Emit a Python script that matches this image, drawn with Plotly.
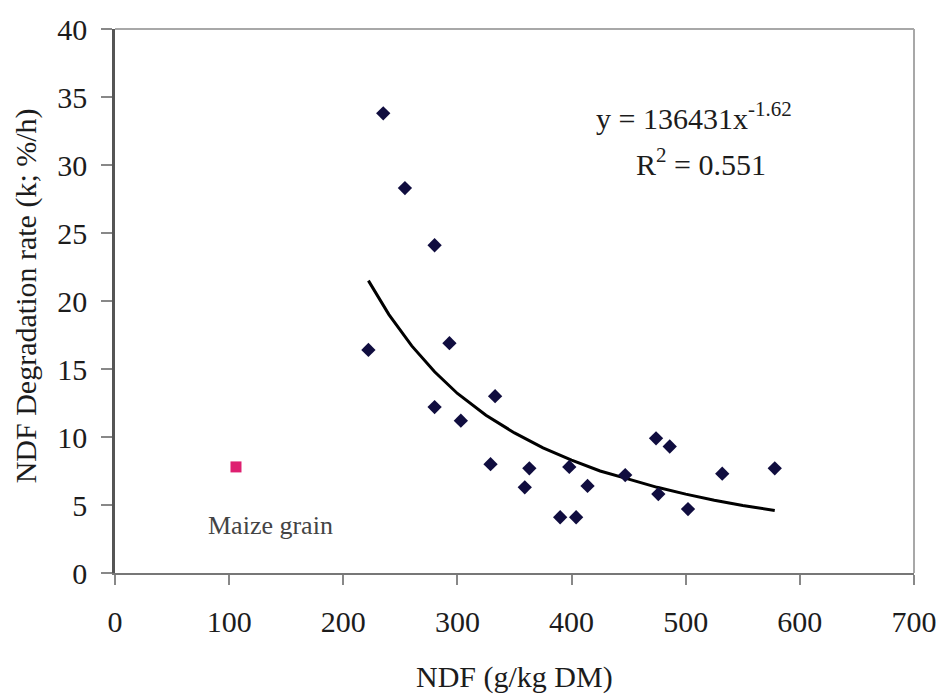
import plotly.graph_objects as go

# Data
ndf = [222, 235, 254, 280, 280, 293, 303, 333, 329, 363, 359, 398, 414, 390, 404,
       447, 474, 486, 476, 502, 532, 578]
k_rate = [16.4, 33.8, 28.3, 24.1, 12.2, 16.9, 11.2, 13.0, 8.0, 7.7, 6.3, 7.8, 6.4, 4.1, 4.1,
          7.2, 9.9, 9.3, 5.8, 4.7, 7.3, 7.7]

maize_ndf = [106]
maize_k = [7.8]

trend_x = [222, 240, 260, 280, 300, 325, 350, 375, 400, 425, 450, 475, 500, 525, 550, 578]
trend_y = [21.5, 19.0, 16.7, 14.8, 13.2, 11.6, 10.3, 9.2, 8.3, 7.5, 6.9, 6.3, 5.8, 5.35, 4.96, 4.6]

x_ticks = [0, 100, 200, 300, 400, 500, 600, 700]
y_ticks = [0, 5, 10, 15, 20, 25, 30, 35, 40]

FONT = "Liberation Serif"
TXT = "#1c1c1c"

fig = go.Figure()
fig.add_trace(go.Scatter(x=trend_x, y=trend_y, mode="lines",
                         line=dict(color="black", width=3), showlegend=False))
fig.add_trace(go.Scatter(x=ndf, y=k_rate, mode="markers",
                         marker=dict(symbol="diamond", size=11, color="#100d3f"),
                         showlegend=False))
fig.add_trace(go.Scatter(x=maize_ndf, y=maize_k, mode="markers",
                         marker=dict(symbol="square", size=11, color="#de1f70"),
                         showlegend=False))

fig.update_layout(
    width=949, height=694,
    margin=dict(l=115, r=28, t=25, b=121),
    paper_bgcolor="white", plot_bgcolor="white",
    font=dict(family=FONT, size=30, color=TXT),
    xaxis=dict(range=[0, 700], tickvals=x_ticks, showgrid=False, zeroline=False,
               showline=True, linecolor="#777777", linewidth=2,
               ticks="outside", ticklen=10, tickcolor="#888888", tickwidth=2,
               ticklabelstandoff=11, tickfont=dict(size=30, color=TXT)),
    yaxis=dict(range=[0, 40], tickvals=y_ticks, showgrid=False, zeroline=False,
               showline=True, linecolor="#555555", linewidth=2.5,
               ticks="outside", ticklen=11, tickcolor="#888888", tickwidth=2,
               ticklabelstandoff=8, tickfont=dict(size=30, color=TXT)),
    shapes=[
        dict(type="line", xref="paper", yref="paper", x0=0, x1=1, y0=1, y1=1,
             line=dict(color="#a8a8a8", width=2)),
        dict(type="line", xref="paper", yref="paper", x0=1, x1=1, y0=0, y1=1,
             line=dict(color="#a8a8a8", width=2)),
    ],
    annotations=[
        dict(text="NDF (g/kg DM)", xref="paper", yref="paper", x=0.5, y=-0.192,
             xanchor="center", yanchor="middle", showarrow=False,
             font=dict(size=30, color=TXT)),
        dict(text="NDF Degradation rate (k; %/h)", xref="paper", yref="paper",
             x=-0.1117, y=0.51, textangle=-90, xanchor="center", yanchor="middle",
             showarrow=False, font=dict(size=30, color=TXT)),
        dict(text="y = 136431x<sup>-1.62</sup>", x=507, y=33.6, xref="x", yref="y",
             xanchor="center", yanchor="middle", showarrow=False,
             font=dict(size=30, color=TXT)),
        dict(text="R<sup>2</sup> = 0.551", x=513, y=30.2, xref="x", yref="y",
             xanchor="center", yanchor="middle", showarrow=False,
             font=dict(size=30, color=TXT)),
        dict(text="Maize grain", x=136, y=3.5, xref="x", yref="y",
             xanchor="center", yanchor="middle", showarrow=False,
             font=dict(size=26, color="#444444")),
    ],
)

fig.write_html("out.html")
